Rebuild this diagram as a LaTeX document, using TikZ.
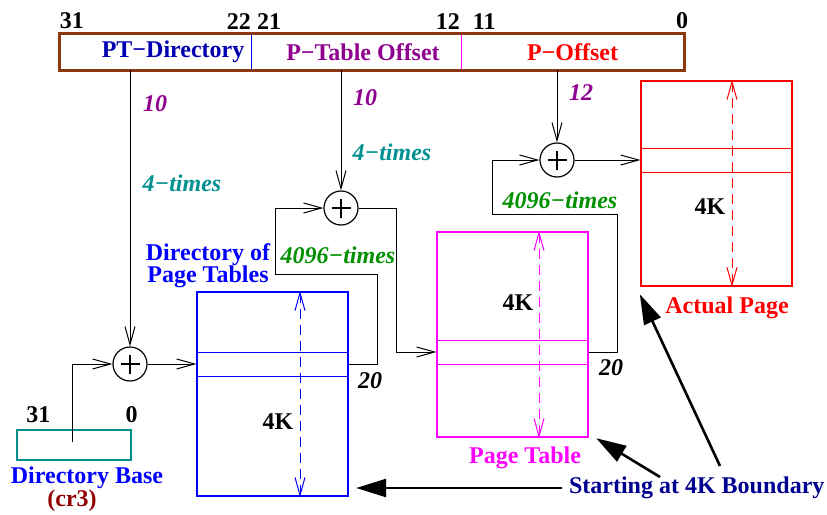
\documentclass[tikz,border=0pt]{standalone}
\usepackage{fontspec}
\setmainfont{Liberation Serif}
\usepackage{xcolor}
\usetikzlibrary{arrows.meta,positioning}

\definecolor{regbrown}{RGB}{140,56,16}
\definecolor{dirblue}{RGB}{0,0,176}
\definecolor{navyblue}{RGB}{0,0,144}
\definecolor{tabpurple}{RGB}{144,0,144}
\definecolor{tabmagenta}{RGB}{255,0,255}
\definecolor{cyanfour}{RGB}{0,144,144}
\definecolor{greenfour}{RGB}{0,144,0}
\definecolor{redfour}{RGB}{144,0,0}

\begin{document}
\begin{tikzpicture}[x=0.5pt, y=-0.5pt,
    font=\fontsize{12}{11}\selectfont\bfseries,
    field/.style={rectangle, minimum height=18pt, inner sep=0pt},
    bitno/.style={inner sep=0pt},
    membox/.style={rectangle, draw, line width=1.2pt, minimum width=75.5pt, minimum height=102.5pt},
    entry/.style={rectangle, draw, line width=0.5pt, minimum width=75.5pt, minimum height=12pt},
    adder/.style={circle, draw, line width=0.6pt, minimum size=17pt, inner sep=0pt,
        path picture={\draw[line width=0.9pt]
            ([xshift=-4.75pt]path picture bounding box.center) -- ([xshift=4.75pt]path picture bounding box.center)
            ([yshift=-4.75pt]path picture bounding box.center) -- ([yshift=4.75pt]path picture bounding box.center);}},
    conn/.style={-{Straight Barb[length=9pt,width=5pt]}, line width=0.5pt},
    sizearrow/.style={{Straight Barb[length=9pt,width=5pt]}-{Straight Barb[length=9pt,width=5pt]}, dash pattern=on 5pt off 3pt, line width=0.5pt},
    cntlabel/.style={font=\fontsize{12}{11}\selectfont\bfseries\itshape},
    bigarrow/.style={-{Triangle[length=15pt,width=9pt]}, line width=1.3pt}]

    \useasboundingbox (0,0) rectangle (827,515);

    % linear address register
    \node[field, minimum width=95.5pt] (ptdir) at (155.5,52) {};
    \node[field, minimum width=105pt] (ptoff) at (356,52) {};
    \node[field, minimum width=111.5pt] (poff) at (572.5,52) {};
    \draw[blue, line width=0.5pt] (ptdir.north east) -- (ptdir.south east);
    \draw[tabmagenta, line width=0.5pt] (ptoff.north east) -- (ptoff.south east);
    \draw[regbrown, line width=1.2pt] (ptdir.north west) rectangle (poff.south east);
    \node[dirblue, left=0pt of ptdir.east] (ptdirtxt) {PT−Directory};
    \node[tabpurple, xshift=3.5pt] (ptofftxt) at (ptoff) {P−Table Offset};
    \node[red] (pofftxt) at (poff) {P−Offset};

    \node[bitno, above right=2pt and 0pt of ptdir.north west] (b31) {31};
    \node[bitno, above left=2pt and 0pt of ptdir.north east] (b22) {22};
    \node[bitno, above right=2pt and 3pt of ptoff.north west] (b21) {21};
    \node[bitno, above left=2pt and 0.5pt of ptoff.north east] (b12) {12};
    \node[bitno, above right=2pt and 6pt of poff.north west] (b11) {11};
    \node[bitno, above left=2pt and -2pt of poff.north east] (b0) {0};

    % directory base (cr3)
    \node[rectangle, draw=cyanfour, line width=1pt, minimum width=57pt, minimum height=15pt] (dirbase) at (74,445) {};
    \node[bitno, above right=3pt and 5pt of dirbase.north west] (c31) {31};
    \node[bitno, above left=3pt and -3pt of dirbase.north east] (c0) {0};
    \node[blue] (basecap) at (87,478) {Directory Base};
    \node[redfour] (cr3cap) at (72,501) {(cr3)};
    \coordinate (cr3) at (72,442);

    % tables
    \node[membox, draw=blue, minimum height=102pt] (dirtab) at (272.5,394) {};
    \node[entry, draw=blue] (dirent) at (272.5,364) {};
    \node[membox, draw=tabmagenta] (ptab) at (512.5,334.5) {};
    \node[entry, draw=tabmagenta] (ptent) at (512.5,352) {};
    \node[membox, draw=red] (page) at (716.5,183.5) {};
    \node[entry, draw=red] (pgent) at (716.5,160) {};

    \draw[sizearrow, blue] ([xshift=13.75pt]dirtab.north) -- ([xshift=13.75pt]dirtab.south);
    \draw[sizearrow, tabmagenta] ([xshift=13.25pt]ptab.north) -- ([xshift=13.25pt]ptab.south);
    \draw[sizearrow, red] ([xshift=7.75pt]page.north) -- ([xshift=7.75pt]page.south);
    \node (k1) at (278,422) {4K};
    \node (k2) at (518,303) {4K};
    \node (k3) at (710,207) {4K};

    \node[blue, align=center] (dirtabcap) at (208,266) {Directory of\\Page Tables};
    \node[tabmagenta] (ptabcap) at (525,458) {Page Table};
    \node[red] (pagecap) at (727,308) {Actual Page};

    % adders
    \node[adder] (plus1) at (130,364) {};
    \node[adder] (plus2) at (341,208) {};
    \node[adder] (plus3) at (557,160) {};

    \draw[conn] (ptdir.south -| plus1) -- (plus1.north);
    \draw[conn] (cr3) |- (plus1.west);
    \draw[conn] (plus1.east) -- (dirent.west);
    \draw[conn] (dirent.east) -| (377,274) -| (275,208) -- (plus2.west);
    \draw[conn] (ptoff.south -| plus2) -- (plus2.north);
    \draw[conn] (plus2.east) -- ++(37.5,0) |- (ptent.west);
    \draw[conn] (ptent.east) -| (617,214) -| (492,160) -- (plus3.west);
    \draw[conn] (poff.south -| plus3) -- (plus3.north);
    \draw[conn] (plus3.east) -- (pgent.west);

    \node[cntlabel, tabpurple] (n1) at (155,104) {10};
    \node[cntlabel, cyanfour] (t1) at (182,183) {4−times};
    \node[cntlabel, tabpurple] (n2) at (365,98) {10};
    \node[cntlabel, cyanfour] (t2) at (392,152) {4−times};
    \node[cntlabel, tabpurple] (n3) at (581,93) {12};
    \node[cntlabel, greenfour] (g1) at (338,255) {4096−times};
    \node[cntlabel, greenfour] (g2) at (560,200) {4096−times};
    \node[cntlabel] (w1) at (370,381) {20};
    \node[cntlabel] (w2) at (611,368) {20};

    % boundary note
    \node[navyblue, anchor=west] (note) at (562,488) {Starting at 4K Boundary};
    \coordinate (nt1) at (660,477);
    \coordinate (nt2) at (720,466);
    \draw[bigarrow, shorten >=3.5pt] (note.west) -- (dirtab.east |- note.west);
    \draw[bigarrow] (nt1) -- ([xshift=3.5pt]ptab.south east);
    \draw[bigarrow] (nt2) -- ([yshift=-3.5pt]page.south west);

\end{tikzpicture}
\end{document}
